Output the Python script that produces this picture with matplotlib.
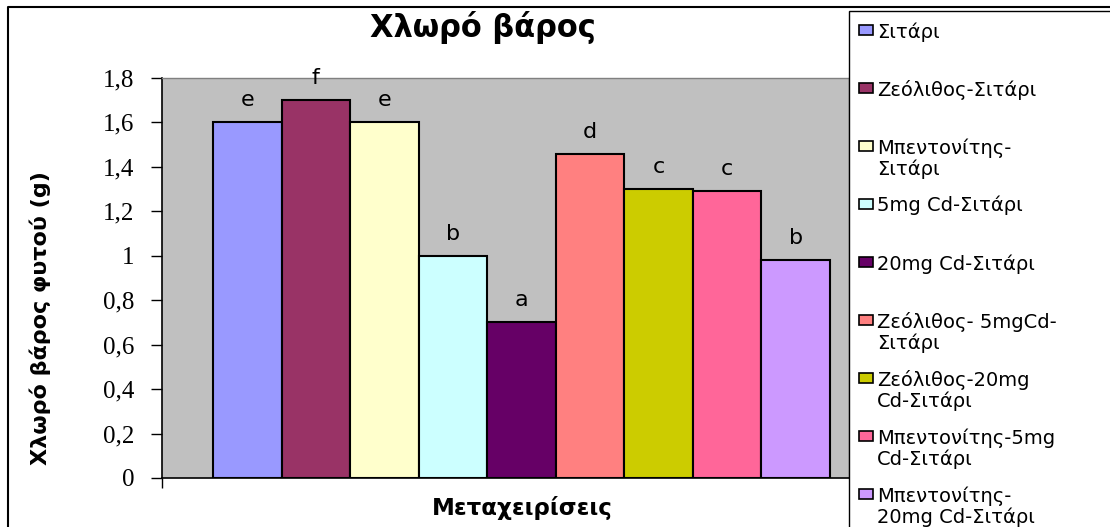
import numpy as np
import matplotlib.pyplot as plt
from matplotlib.patches import Rectangle
from matplotlib.lines import Line2D

# data
treatments = ['Σιτάρι', 'Ζεόλιθος-Σιτάρι', 'Μπεντονίτης-\nΣιτάρι', '5mg Cd-Σιτάρι',
              '20mg Cd-Σιτάρι', 'Ζεόλιθος- 5mgCd-\nΣιτάρι', 'Ζεόλιθος-20mg\nCd-Σιτάρι',
              'Μπεντονίτης-5mg\nCd-Σιτάρι', 'Μπεντονίτης-\n20mg Cd-Σιτάρι']
values = [1.6, 1.7, 1.6, 1.0, 0.7, 1.46, 1.3, 1.29, 0.98]
letters = ['e', 'f', 'e', 'b', 'a', 'd', 'c', 'c', 'b']
colors = ['#9999FF', '#993366', '#FFFFCC', '#CCFFFF', '#660066',
          '#FF8080', '#CCCC00', '#FF6699', '#CC99FF']
yticks = [0, 0.2, 0.4, 0.6, 0.8, 1.0, 1.2, 1.4, 1.6, 1.8]
ytick_labels = ['0', '0,2', '0,4', '0,6', '0,8', '1', '1,2', '1,4', '1,6', '1,8']

W, H = 1110, 527
fig = plt.figure(figsize=(W / 100, H / 100), dpi=100)
ax = fig.add_axes([162 / W, 1 - 478 / H, (849 - 162) / W, 400 / H])

x = np.arange(len(values))
ax.bar(x, values, width=1.0, color=colors, edgecolor='black', linewidth=1.5)
xmin, xmax = -1.244, 8.777
ax.set_xlim(xmin, xmax)
ax.set_ylim(0, 1.8)
ax.set_facecolor('#C0C0C0')

ax.set_yticks(yticks, ytick_labels, fontfamily='Liberation Serif', fontsize=18)
ax.tick_params(axis='y', length=8, width=1, pad=12, direction='out')
ax.set_xticks([xmin], [''])
ax.tick_params(axis='x', length=7, width=1, direction='out')

for s in ['left', 'bottom']:
    ax.spines[s].set_color('black')
    ax.spines[s].set_linewidth(1.2)
for s in ['top', 'right']:
    ax.spines[s].set_color('#808080')
    ax.spines[s].set_linewidth(1)

for xi, v, l in zip(x, values, letters):
    ax.annotate(l, (xi, v), xytext=(0, 11.5), textcoords='offset points',
                ha='center', va='baseline', fontsize=16, annotation_clip=False)

# titles
fig.text(483 / W, 1 - 28 / H, 'Χλωρό βάρος', ha='center', va='center',
         fontsize=22, fontweight='bold')
fig.text(40 / W, 1 - 318 / H, 'Χλωρό βάρος φυτού (g)', rotation=90,
         ha='center', va='center', fontsize=16, fontweight='bold')
fig.text(522 / W, 1 - 508 / H, 'Μεταχειρίσεις', ha='center', va='center',
         fontsize=16.5, fontweight='bold')

# outer chart border
fig.add_artist(Line2D([8 / W, 8 / W, 1.0], [0, 1 - 7 / H, 1 - 7 / H],
                      transform=fig.transFigure, color='black', lw=1.5))

# legend box (Excel style, evenly spaced entries)
fig.add_artist(Rectangle((849 / W, -0.1), 0.5, 1.1 - 11 / H, transform=fig.transFigure,
                         facecolor='white', edgecolor='black', lw=1))
for i, (lab, c) in enumerate(zip(treatments, colors)):
    cy = 30 + i * 58
    fig.add_artist(Rectangle((859 / W, 1 - (cy + 5) / H), 14 / W, 10 / H,
                             transform=fig.transFigure, facecolor=c,
                             edgecolor='black', lw=1.2))
    fig.text(877 / W, 1 - (cy - 8) / H, lab, ha='left', va='top', fontsize=14,
             linespacing=1.1)

fig.savefig('out.png', dpi=100)
